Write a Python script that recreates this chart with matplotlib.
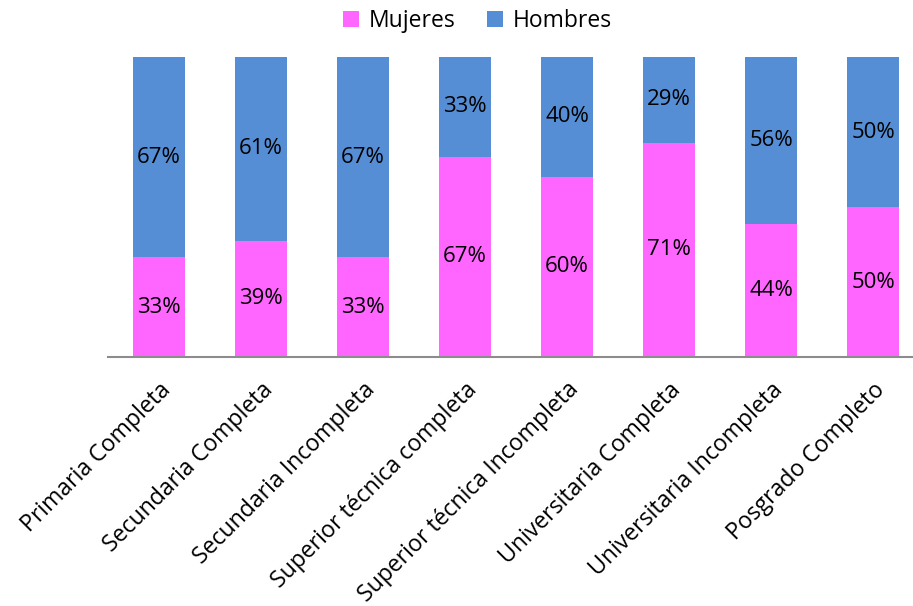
import matplotlib.pyplot as plt
import numpy as np

categorias = ["Primaria Completa", "Secundaria Completa", "Secundaria Incompleta",
              "Superior técnica completa", "Superior técnica Incompleta",
              "Universitaria Completa", "Universitaria Incompleta", "Posgrado Completo"]
mujeres = [33.3, 38.7, 33.3, 66.7, 60.0, 71.4, 44.4, 50.0]
hombres = [66.7, 61.3, 66.7, 33.3, 40.0, 28.6, 55.6, 50.0]

plt.rcParams['font.family'] = ['Open Sans', 'DejaVu Sans']

fig = plt.figure(figsize=(9.13, 6.06), dpi=100)
ax = fig.add_axes([108 / 913, 249 / 606, 816 / 913, 300 / 606])

x = np.arange(len(categorias))
b1 = ax.bar(x, mujeres, width=0.51, color="#FF66FF", label="Mujeres")
b2 = ax.bar(x, hombres, width=0.51, bottom=mujeres, color="#558ED5", label="Hombres")

for i in range(len(x)):
    ax.text(x[i], mujeres[i] / 2, f"{round(mujeres[i])}%", ha="center", va="center", fontsize=16)
    ax.text(x[i], mujeres[i] + hombres[i] / 2, f"{round(hombres[i])}%", ha="center", va="center", fontsize=16)

ax.set_xlim(-0.5, 7.5)
ax.set_ylim(0, 100)
ax.set_yticks([])
ax.set_xticks(x)
ax.set_xticklabels(categorias, rotation=45, ha="right", rotation_mode="anchor", fontsize=16.6)
ax.tick_params(axis="x", length=0, pad=15)
for s in ["top", "right", "left"]:
    ax.spines[s].set_visible(False)
ax.spines["bottom"].set_color("#8c8c8c")
ax.spines["bottom"].set_linewidth(1.5)

fig.legend(handles=[b1, b2], loc="center", bbox_to_anchor=(0.523, 0.965), ncol=2,
           frameon=False, fontsize=16.5, handlelength=0.7, handleheight=0.7,
           handletextpad=0.4, columnspacing=1.4)

fig.savefig("out.png", dpi=100)
